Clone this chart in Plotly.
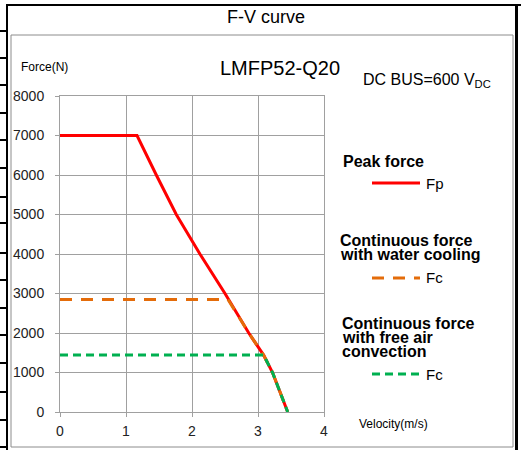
import plotly.graph_objects as go

# ---- data ----
peak_v = [0, 1.167, 1.459, 1.762, 2.12, 2.50, 2.86, 3.085, 3.22, 3.34, 3.45]
peak_f = [7000, 7000, 6000, 5000, 4000, 3000, 2000, 1440, 1000, 500, 0]
water_v = [0, 2.545, 2.86, 3.085, 3.22, 3.34, 3.45]
water_f = [2850, 2850, 2000, 1440, 1000, 500, 0]
air_v = [0, 3.085, 3.22, 3.34, 3.45]
air_f = [1440, 1440, 1000, 500, 0]
x_ticks = [0, 1, 2, 3, 4]
y_ticks = [0, 1000, 2000, 3000, 4000, 5000, 6000, 7000, 8000]

RED = "#FF0000"
ORANGE = "#E46C0A"
GREEN = "#00B050"
GRID = "#A0A0A0"
FONT = "Liberation Sans, Arial, sans-serif"

# plot-area pixel frame
L, R, T, B = 60, 324, 96, 412
W, H = R - L, B - T


def px(x):
    return (x - L) / W


def py(y):
    return (B - y) / H


fig = go.Figure()
fig.add_trace(go.Scatter(x=peak_v, y=peak_f, mode="lines",
                         line=dict(color=RED, width=3), showlegend=False))
fig.add_trace(go.Scatter(x=water_v, y=water_f, mode="lines",
                         line=dict(color=ORANGE, width=3, dash="12px,9px"), showlegend=False))
fig.add_trace(go.Scatter(x=air_v, y=air_f, mode="lines",
                         line=dict(color=GREEN, width=3, dash="8px,5px"), showlegend=False))

shapes = []


def seg(x0, y0, x1, y1, color, width, dash="solid"):
    shapes.append(dict(type="line", xref="paper", yref="paper",
                       x0=px(x0), y0=py(y0), x1=px(x1), y1=py(y1),
                       line=dict(color=color, width=width, dash=dash), layer="above"))


# outer sheet frame
seg(7, 5, 521, 5, "black", 2)
seg(7, 4, 7, 450, "black", 2)
seg(516.5, 4, 516.5, 450, "black", 3)
for yy in [31, 58, 85, 113, 140, 168, 197, 223, 253, 280, 308, 335, 363, 392, 420, 447]:
    seg(0, yy, 7, yy, "black", 2)
# inner gray chart box
shapes.append(dict(type="rect", xref="paper", yref="paper",
                   x0=px(11), y0=py(35), x1=px(513), y1=py(447),
                   line=dict(color="#8C8C8C", width=1), layer="below"))
# legend samples
seg(372, 183, 420, 183, RED, 3)
seg(372, 278, 420, 278, ORANGE, 3, "12px,9px")
seg(372, 374, 420, 374, GREEN, 3, "8px,5px")

ann = []


def text(x, y, s, size, bold=False, xanchor="left", color="black"):
    ann.append(dict(x=px(x), y=py(y), xref="paper", yref="paper", text=("<b>%s</b>" % s) if bold else s,
                    showarrow=False, xanchor=xanchor, yanchor="middle",
                    font=dict(family=FONT, size=size, color=color)))


text(266, 17, "F-V curve", 18, xanchor="center")
text(280, 68, "LMFP52-Q20", 20, xanchor="center")
text(361, 81, "DC BUS=600 V<sub>DC</sub>", 16)
text(19, 67, "Force(N)", 12)
text(357, 424, "Velocity(m/s)", 12)
text(341, 161, "Peak force", 16, bold=True)
text(424, 183, "Fp", 15)
text(338, 240.5, "Continuous force", 16, bold=True)
text(338, 254, "with water cooling", 16, bold=True)
text(424, 277, "Fc", 15)
text(340, 323.5, "Continuous force", 16, bold=True)
text(340, 337.5, "with free air", 16, bold=True)
text(340, 351.5, "convection", 16, bold=True)
text(424, 374, "Fc", 15)

fig.update_layout(
    width=521, height=450, autosize=False,
    margin=dict(l=L, r=521 - R, t=T, b=450 - B, pad=0),
    paper_bgcolor="white", plot_bgcolor="white",
    shapes=shapes, annotations=ann,
    font=dict(family=FONT, size=14, color="#222222"),
    xaxis=dict(range=[0, 4], tickvals=x_ticks, showgrid=True, gridcolor=GRID, gridwidth=1,
               showline=True, linecolor=GRID, linewidth=1, mirror=True,
               ticks="outside", ticklen=4, tickcolor=GRID, zeroline=False,
               ticklabelstandoff=2, tickfont=dict(size=14, family=FONT, color="#222")),
    yaxis=dict(range=[0, 8000], tickvals=y_ticks, showgrid=True, gridcolor=GRID, gridwidth=1,
               showline=True, linecolor=GRID, linewidth=1, mirror=True,
               ticks="outside", ticklen=4, tickcolor=GRID, zeroline=False,
               ticklabelstandoff=8, tickfont=dict(size=14, family=FONT, color="#222")),
)

fig.write_html("out.html", config={"displayModeBar": False},
               post_script="document.body.style.margin='0';document.body.style.overflow='hidden';")
